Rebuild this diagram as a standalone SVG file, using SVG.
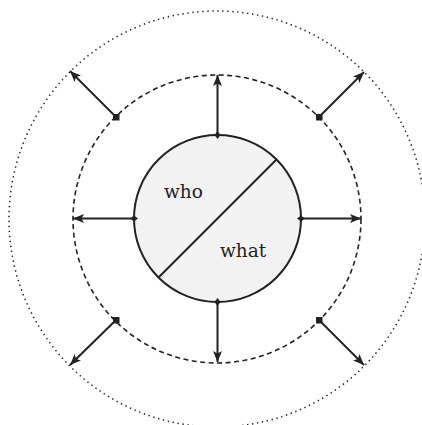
<svg xmlns="http://www.w3.org/2000/svg" width="422" height="425" viewBox="0 0 422 425">
<style>
.ring-outer{fill:none;stroke:#222;stroke-width:1.5;stroke-dasharray:1.4 3.6}
.ring-mid{fill:none;stroke:#222;stroke-width:1.6;stroke-dasharray:5 3.5}
.core{fill:#f2f2f2;stroke:#222;stroke-width:2}
.conn line{stroke:#222;stroke-width:2}
.lbl{font-family:"DejaVu Serif","Liberation Serif",serif;font-size:18.5px;fill:#222}
</style>
<defs>
<marker id="arr" viewBox="0 0 11 9" refX="11" refY="4.5" markerWidth="11" markerHeight="9" markerUnits="userSpaceOnUse" orient="auto">
<path d="M0,0 L11,4.5 L0,9 L2.5,4.5 Z" fill="#222"/>
</marker>
<marker id="dia" viewBox="0 0 8 8" refX="4" refY="4" markerWidth="8" markerHeight="8" markerUnits="userSpaceOnUse" orient="auto">
<path d="M0,4 L4,1 L8,4 L4,7 Z" fill="#222"/>
</marker>
<marker id="sq" viewBox="0 0 7 7" refX="3.5" refY="3.5" markerWidth="7" markerHeight="7" markerUnits="userSpaceOnUse" orient="0">
<rect x="0" y="0" width="7" height="7" fill="#222"/>
</marker>
</defs>
<g id="outer-ring"><circle class="ring-outer" cx="217" cy="219" r="208"/></g>
<g id="middle-ring"><circle class="ring-mid" cx="217" cy="219" r="144"/></g>
<g id="core">
<circle class="core" cx="217.5" cy="218.5" r="83.5"/>
<line x1="158.5" y1="277.5" x2="276.5" y2="159.5" stroke="#222" stroke-width="2"/>
<text class="lbl" x="164" y="198">who</text>
<text class="lbl" x="220" y="257">what</text>
</g>
<g id="connectors" class="conn">
<line x1="217.5" y1="135" x2="217.5" y2="75" marker-start="url(#dia)" marker-end="url(#arr)"/>
<line x1="217.5" y1="302" x2="217.5" y2="362" marker-start="url(#dia)" marker-end="url(#arr)"/>
<line x1="134" y1="218.5" x2="73" y2="218.5" marker-start="url(#dia)" marker-end="url(#arr)"/>
<line x1="301" y1="218.5" x2="361" y2="218.5" marker-start="url(#dia)" marker-end="url(#arr)"/>
<line x1="116" y1="117" x2="70" y2="71" marker-start="url(#sq)" marker-end="url(#arr)"/>
<line x1="319" y1="117" x2="364" y2="72" marker-start="url(#sq)" marker-end="url(#arr)"/>
<line x1="116" y1="320" x2="70" y2="365" marker-start="url(#sq)" marker-end="url(#arr)"/>
<line x1="319" y1="320" x2="364" y2="365" marker-start="url(#sq)" marker-end="url(#arr)"/>
</g>
</svg>
